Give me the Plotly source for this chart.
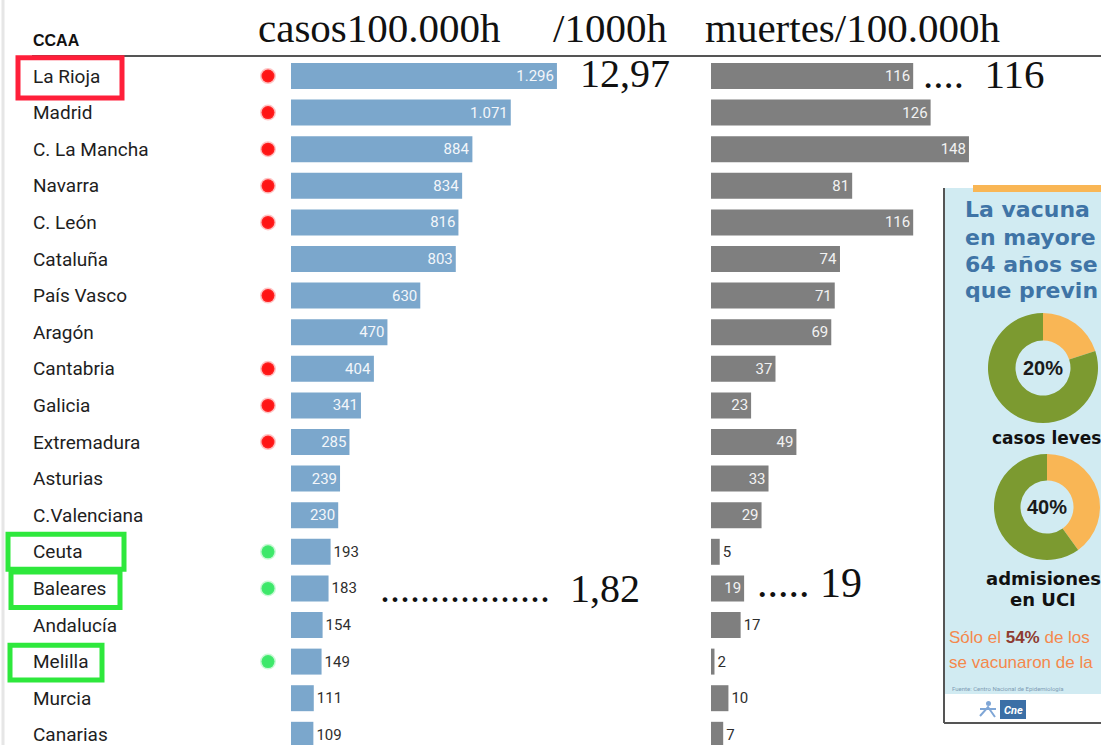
import plotly.graph_objects as go

# ---------------- data ----------------
ccaa = ["La Rioja", "Madrid", "C. La Mancha", "Navarra", "C. León", "Cataluña",
        "País Vasco", "Aragón", "Cantabria", "Galicia", "Extremadura", "Asturias",
        "C.Valenciana", "Ceuta", "Baleares", "Andalucía", "Melilla", "Murcia", "Canarias"]
casos = [1296, 1071, 884, 834, 816, 803, 630, 470, 404, 341, 285, 239, 230,
         193, 183, 154, 149, 111, 109]
muertes = [116, 126, 148, 81, 116, 74, 71, 69, 37, 23, 49, 33, 29, 5, 19, 17, 2, 10, 7]
marca = ["rojo", "rojo", "rojo", "rojo", "rojo", "", "rojo", "", "rojo", "rojo", "rojo",
         "", "", "verde", "verde", "", "verde", "", ""]
resaltado = {"La Rioja": "rojo", "Ceuta": "verde", "Baleares": "verde", "Melilla": "verde"}
prev_labels = ["casos leves", "admisiones en UCI"]
prev_values = [20, 40]
col_titles = ["casos100.000h", "/1000h", "muertes/100.000h"]

# ---------------- geometry helpers ----------------
W, H = 1101, 745
def fx(p):
    return min(1.0, max(0.0, p / W))
def fy(p):
    return min(1.0, max(0.0, 1 - p / H))

ROW0, ROWSTEP = 76, 36.6
y_top = -ROW0 / ROWSTEP
y_bot = (H - ROW0) / ROWSTEP

BLUE = "#7BA7CC"
GRAY = "#7F7F7F"
ORANGE = "#F9B655"
GREEN = "#7C9A30"
SERIF = "Liberation Serif, Times New Roman, serif"
SANS = "Roboto, Arial, sans-serif"
INSET_FONT = "DejaVu Sans, Verdana, sans-serif"
NARROW = "Liberation Sans, Arial, sans-serif"
NB = "&nbsp;"

def fmt(v):
    return f"{v:,}".replace(",", ".")

fig = go.Figure()

# Left bars: casos / 100.000 h
fig.add_trace(go.Bar(
    x=casos, y=ccaa, orientation="h", xaxis="x", yaxis="y",
    marker=dict(color=BLUE, line=dict(width=0)), width=0.71,
    text=[fmt(v) for v in casos],
    textposition=["inside" if v >= 200 else "outside" for v in casos],
    insidetextanchor="end", constraintext="none", cliponaxis=False,
    insidetextfont=dict(family=SANS, size=15, color="#F3F6FA"),
    outsidetextfont=dict(family=SANS, size=15, color="#2E2E2E"),
    hoverinfo="skip", showlegend=False,
))

# Right bars: muertes / 100.000 h
fig.add_trace(go.Bar(
    x=muertes, y=ccaa, orientation="h", xaxis="x2", yaxis="y",
    marker=dict(color=GRAY, line=dict(width=0)), width=0.71,
    text=[fmt(v) for v in muertes],
    textposition=["inside" if v >= 19 else "outside" for v in muertes],
    insidetextanchor="end", constraintext="none", cliponaxis=False,
    insidetextfont=dict(family=SANS, size=15, color="#F2F2F2"),
    outsidetextfont=dict(family=SANS, size=15, color="#2E2E2E"),
    hoverinfo="skip", showlegend=False,
))

# Red / green dots
dot_colors = {"rojo": "#FF1414", "verde": "#3DE86A"}
dot_halo = {"rojo": "rgba(255,60,60,0.30)", "verde": "rgba(80,235,120,0.30)"}
dy = [c for c, m in zip(ccaa, marca) if m]
dm = [m for m in marca if m]
fig.add_trace(go.Scatter(
    x=[0] * len(dy), y=dy, xaxis="x3", yaxis="y", mode="markers",
    marker=dict(size=13, color=[dot_colors[m] for m in dm],
                line=dict(width=3, color=[dot_halo[m] for m in dm])),
    hoverinfo="skip", showlegend=False, cliponaxis=False,
))

# Donuts in the inset
donuts = [(1043, 368, 55), (1047, 507, 53)]
for (cx, cy, r), v in zip(donuts, prev_values):
    fig.add_trace(go.Pie(
        values=[v, 100 - v], labels=["a", "b"], hole=0.5, sort=False,
        direction="clockwise", rotation=0, textinfo="none", hoverinfo="skip",
        marker=dict(colors=[ORANGE, GREEN], line=dict(width=0)),
        domain=dict(x=[fx(cx - r), fx(cx + r)], y=[fy(cy + r), fy(cy - r)]),
        showlegend=False,
    ))

shapes = []
# left faint page border
shapes.append(dict(type="line", xref="paper", yref="paper", x0=fx(3), x1=fx(3), y0=0, y1=1,
                   line=dict(color="#E6E6E6", width=3), layer="below"))
# header line
shapes.append(dict(type="line", xref="paper", yref="paper", x0=fx(32), x1=1, y0=fy(56), y1=fy(56),
                   line=dict(color="#555555", width=2)))
# inset background
shapes.append(dict(type="rect", xref="paper", yref="paper", x0=fx(944), x1=1, y0=fy(722), y1=fy(188),
                   fillcolor="#D1EBF2", line=dict(width=0), layer="below"))
shapes.append(dict(type="rect", xref="paper", yref="paper", x0=fx(945), x1=1, y0=fy(722), y1=fy(694),
                   fillcolor="#FFFFFF", line=dict(width=0), layer="below"))
shapes.append(dict(type="rect", xref="paper", yref="paper", x0=fx(973), x1=1, y0=fy(192), y1=fy(185),
                   fillcolor=ORANGE, line=dict(width=0), layer="below"))
shapes.append(dict(type="line", xref="paper", yref="paper", x0=fx(944), x1=fx(944), y0=fy(723), y1=fy(188),
                   line=dict(color="#555555", width=2)))
shapes.append(dict(type="line", xref="paper", yref="paper", x0=fx(944), x1=1, y0=fy(723), y1=fy(723),
                   line=dict(color="#555555", width=2)))
shapes.append(dict(type="rect", xref="paper", yref="paper", x0=fx(1000), x1=fx(1026), y0=fy(719), y1=fy(700),
                   fillcolor="#3B6FA6", line=dict(width=0)))
# small logo figure
shapes.append(dict(type="circle", xref="paper", yref="paper", x0=fx(986), x1=fx(991), y0=fy(706), y1=fy(701),
                   fillcolor="#7FA6D6", line=dict(width=0)))
shapes.append(dict(type="path", xref="paper", yref="paper",
                   path=f"M {fx(980)},{fy(716)} L {fx(988)},{fy(707)} L {fx(995)},{fy(717)} "
                        f"M {fx(980)},{fy(709)} L {fx(996)},{fy(709)}",
                   line=dict(color="#7FA6D6", width=2)))
# highlight boxes around labels
box_style = {"La Rioja": (18, 122, -0.5, 0.6), "Ceuta": (8, 124, -0.48, 0.48),
             "Baleares": (11, 120, -0.45, 0.52), "Melilla": (10, 102, -0.45, 0.5)}
box_col = {"rojo": "#FF1F3A", "verde": "#2EE83C"}
for name, col in resaltado.items():
    i = ccaa.index(name)
    x0, x1, d0, d1 = box_style[name]
    shapes.append(dict(type="rect", xref="paper", yref="y", x0=fx(x0), x1=fx(x1),
                       y0=i + d0, y1=i + d1, line=dict(color=box_col[col], width=5)))

ann = []
def add_text(text, x, y, size, color="#111111", family=SANS, xanchor="left", bold=False):
    if bold:
        text = "<b>" + text + "</b>"
    ann.append(dict(text=text, x=fx(x), y=fy(y), xref="paper", yref="paper",
                    xanchor=xanchor, yanchor="middle", showarrow=False,
                    font=dict(size=size, color=color, family=family)))

# category labels, placed on the shared category axis
for c in ccaa:
    ann.append(dict(text=c, x=fx(31), y=c, xref="paper", yref="y", xanchor="left",
                    yanchor="middle", showarrow=False,
                    font=dict(family=SANS, size=19, color="#1E1E1E")))

add_text("CCAA", 31, 40, 16, bold=True, family="Arial, Liberation Sans, sans-serif")
add_text(col_titles[0], 256, 28, 41, family=SERIF)
add_text(col_titles[1], 551, 28, 41, family=SERIF)
add_text(col_titles[2], 703, 28, 41, family=SERIF)
add_text("12,97", 578, 74, 40, family=SERIF)
add_text(".... " + NB + str(muertes[0]), 921, 74, 41, family=SERIF)
add_text("." * 17 + NB + NB + "1,82", 378, 588, 40, family=SERIF)
add_text("....." + NB + str(muertes[ccaa.index("Baleares")]), 755, 583, 42, family=SERIF)

# inset texts
INBLUE = "#3F74A6"
for t, yy in zip(["La vacuna", "en mayore", "64 años se", "que previn"], [209, 237, 264, 290]):
    add_text(t, 963, yy, 22, color=INBLUE, family=INSET_FONT, bold=True)
for (cx, cy, r), v in zip(donuts, prev_values):
    add_text(f"{v}%", cx, cy, 20, color="#1A1A1A", family=NARROW, xanchor="center", bold=True)
add_text(prev_labels[0], 990, 438, 17, color="#111111", family=INSET_FONT, bold=True)
add_text("admisiones", 1043, 578, 18, color="#111111", family=INSET_FONT, xanchor="center", bold=True)
add_text("en UCI", 1043, 599, 18, color="#111111", family=INSET_FONT, xanchor="center", bold=True)
add_text("Sólo el <b><span style='color:#8E3B30'>54%</span></b> de los", 947, 637, 17,
         color="#F5884C", family=NARROW)
add_text("se vacunaron de la", 947, 662, 17, color="#F5884C", family=NARROW)
add_text("Fuente: Centro Nacional de Epidemiología", 950, 688, 6, color="#7F9DB5", family=SANS)
add_text("<i>Cne</i>", 1013, 710, 11, color="#FFFFFF", family=SANS, xanchor="center", bold=True)

fig.update_layout(
    width=W, height=H,
    margin=dict(l=0, r=0, t=0, b=0, pad=0),
    paper_bgcolor="white", plot_bgcolor="rgba(0,0,0,0)",
    showlegend=False, bargap=0.29,
    xaxis=dict(domain=[fx(291), fx(291 + 1500 * 0.2052)], range=[0, 1500], visible=False,
               anchor="y", fixedrange=True),
    xaxis2=dict(domain=[fx(711), fx(711 + 200 * 1.743)], range=[0, 200], visible=False,
                anchor="y", fixedrange=True),
    xaxis3=dict(domain=[fx(255), fx(281)], range=[-1, 1], visible=False, anchor="y",
                fixedrange=True),
    yaxis=dict(domain=[0, 1], range=[y_bot, y_top], type="category",
               categoryorder="array", categoryarray=ccaa,
               showticklabels=False, showline=False, showgrid=False, zeroline=False,
               ticks="", automargin=False, fixedrange=True),
    shapes=shapes, annotations=ann,
)

fig.write_html("out.html", config={"displayModeBar": False},
               post_script="document.body.style.margin='0';")
